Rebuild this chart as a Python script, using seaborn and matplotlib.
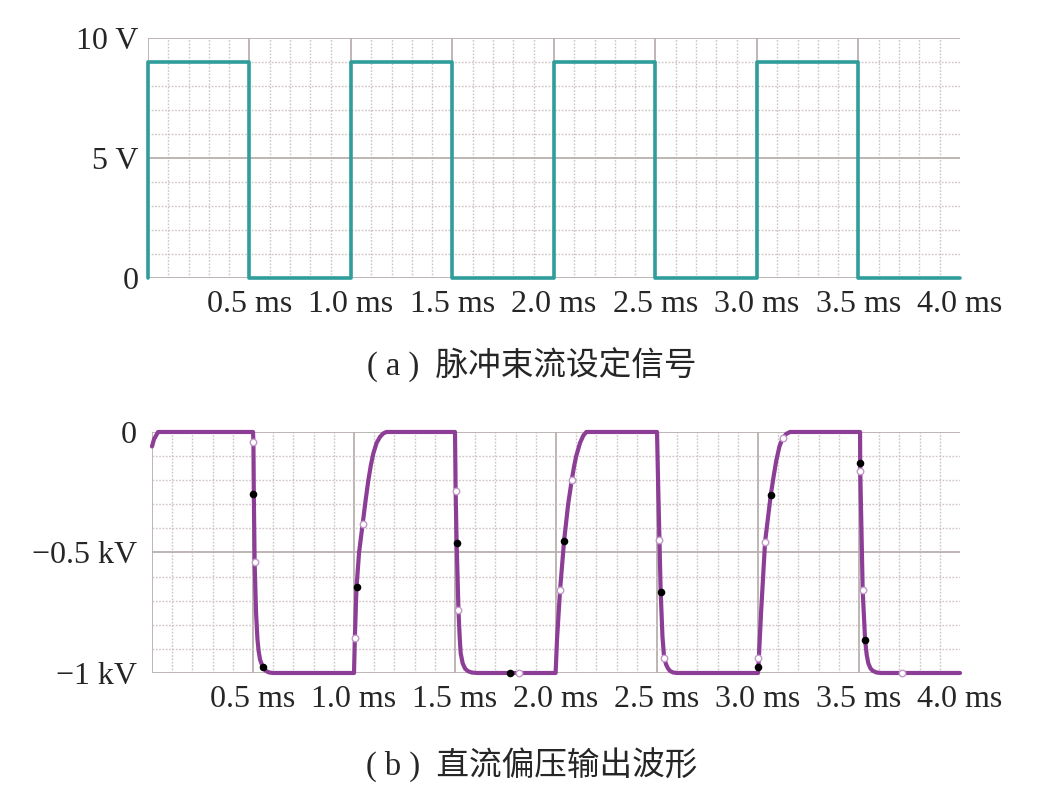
import numpy as np
import pandas as pd
import seaborn as sns
import matplotlib.pyplot as plt
from matplotlib.ticker import MultipleLocator

# (a) set signal, square wave (V), drawn as steps
set_t = [0.0, 0.0, 0.5, 1.0, 1.5, 2.0, 2.5, 3.0, 3.5, 4.0]
set_v = [0, 9, 0, 9, 0, 9, 0, 9, 0, 0]

# (b) bias output (kV)
bias_t = [0.0, 0.01, 0.03,
          0.50, 0.502, 0.504, 0.508, 0.515, 0.522, 0.528, 0.535, 0.545, 0.555, 0.565, 0.58, 0.60,
          1.00, 1.004, 1.012, 1.025, 1.043, 1.058, 1.071, 1.084, 1.096, 1.112, 1.129, 1.145, 1.16,
          1.50, 1.503, 1.508, 1.517, 1.523, 1.528, 1.538, 1.55, 1.565, 1.583, 1.61,
          1.998, 2.005, 2.02, 2.04, 2.06, 2.078, 2.09, 2.10, 2.119, 2.135, 2.15,
          2.50, 2.505, 2.512, 2.518, 2.527, 2.535, 2.545, 2.555, 2.565, 2.58, 2.60,
          3.00, 3.004, 3.015, 3.035, 3.063, 3.078, 3.09, 3.106, 3.122, 3.14, 3.158,
          3.505, 3.506, 3.518, 3.53, 3.538, 3.546, 3.556, 3.568, 3.587, 3.61, 4.0]
bias_v = [-0.06, -0.03, 0.0,
          0.0, -0.04, -0.26, -0.54, -0.75, -0.86, -0.91, -0.945, -0.968, -0.983, -0.992, -0.998, -1.0,
          -1.0, -0.86, -0.65, -0.5, -0.38, -0.28, -0.2, -0.135, -0.088, -0.045, -0.02, -0.006, 0.0,
          0.0, -0.245, -0.46, -0.74, -0.85, -0.918, -0.96, -0.982, -0.993, -0.998, -1.0,
          -1.0, -0.86, -0.656, -0.451, -0.3, -0.199, -0.14, -0.1, -0.045, -0.015, 0.0,
          0.0, -0.2, -0.448, -0.663, -0.85, -0.935, -0.965, -0.982, -0.992, -0.998, -1.0,
          -1.0, -0.94, -0.75, -0.455, -0.261, -0.18, -0.12, -0.06, -0.026, -0.008, 0.0,
          0.0, -0.16, -0.656, -0.863, -0.925, -0.96, -0.98, -0.991, -0.998, -1.0, -1.0]

# cursor markers on the trace
dot_t = [0.502, 0.551, 1.013, 1.508, 1.772, 2.04, 2.518, 3.001, 3.063, 3.505, 3.53]
dot_v = [-0.257, -0.974, -0.645, -0.459, -1.0, -0.451, -0.663, -0.974, -0.261, -0.127, -0.863]
ring_t = [0.502, 0.51, 1.005, 1.043, 1.503, 1.517, 1.817, 2.02, 2.078, 2.512, 2.535,
          3.001, 3.035, 3.122, 3.505, 3.518, 3.714]
ring_v = [-0.04, -0.538, -0.856, -0.382, -0.245, -0.739, -1.0, -0.656, -0.199, -0.448,
          -0.939, -0.939, -0.455, -0.026, -0.16, -0.656, -1.0]

x_ticks = [0, 0.5, 1.0, 1.5, 2.0, 2.5, 3.0, 3.5, 4.0]
x_labels = ["", "0.5 ms", "1.0 ms", "1.5 ms", "2.0 ms", "2.5 ms", "3.0 ms", "3.5 ms", "4.0 ms"]
top_yticks = [0, 5, 10]
top_ylabels = ["0", "5 V", "10 V"]
bot_yticks = [-1, -0.5, 0]
bot_ylabels = ["\u22121 kV", "\u22120.5 kV", "0"]
captions = ["( a )  脉冲束流设定信号", "( b )  直流偏压输出波形"]

sns.set_style("white")
plt.rcParams["font.family"] = ["Liberation Serif", "Noto Sans CJK SC"]

TEAL = "#2f9d9b"
PURPLE = "#8c3d96"
MAJOR = "#b9afaf"
MINOR = "#cfc2c2"

fig = plt.figure(figsize=(10.6, 7.97), dpi=100)
ax1 = fig.add_axes([0.1396, 0.6512, 0.766, 0.3011])
ax2 = fig.add_axes([0.1434, 0.1556, 0.7623, 0.3024])


def style_grid(ax, ymin, ymax, yminor, ylab_pad):
    ax.set_xlim(0, 4.0)
    ax.set_ylim(ymin, ymax)
    ax.set_xticks(x_ticks)
    ax.set_xticklabels(x_labels, fontsize=23)
    ax.xaxis.set_minor_locator(MultipleLocator(0.1))
    ax.yaxis.set_minor_locator(MultipleLocator(yminor))
    ax.grid(which="major", color=MAJOR, lw=1.3, ls="-")
    ax.grid(which="minor", color=MINOR, lw=1.0, ls=(0, (1.2, 1.2)))
    ax.tick_params(which="both", length=0)
    ax.tick_params(axis="x", pad=9)
    ax.tick_params(axis="y", pad=ylab_pad, labelsize=23)
    for s in ax.spines.values():
        s.set_visible(False)
    ax.set_axisbelow(True)
    # no grid line on the right edge
    ax.xaxis.get_gridlines()[-1].set_visible(False)
    ax.set_xlabel("")
    ax.set_ylabel("")


# (a)
df_set = pd.DataFrame({"t": set_t, "v": set_v})
sns.lineplot(data=df_set, x="t", y="v", ax=ax1, color=TEAL, lw=2.6,
             estimator=None, sort=False, drawstyle="steps-post", clip_on=False, zorder=5)
ax1.set_yticks(top_yticks)
ax1.set_yticklabels(top_ylabels)
style_grid(ax1, 0, 10, 1, 7)

# (b)
df_bias = pd.DataFrame({"t": bias_t, "v": bias_v})
sns.lineplot(data=df_bias, x="t", y="v", ax=ax2, color=PURPLE, lw=3.0,
             estimator=None, sort=False, clip_on=False, zorder=5)
sns.scatterplot(x=ring_t, y=ring_v, ax=ax2, s=22, facecolor="white",
                edgecolor="#c29bca", linewidth=1.0, zorder=6, clip_on=False)
sns.scatterplot(x=dot_t, y=dot_v, ax=ax2, s=30, color="black",
                edgecolor="black", linewidth=0, zorder=7, clip_on=False)
ax2.set_yticks(bot_yticks)
ax2.set_yticklabels(bot_ylabels)
style_grid(ax2, -1, 0, 0.1, 11)

fig.text(0.502, 1 - 365 / 797, captions[0], ha="center", va="center", fontsize=23.5)
fig.text(0.502, 1 - 765 / 797, captions[1], ha="center", va="center", fontsize=23.5)

fig.savefig("out.png", dpi=100, facecolor="white")
